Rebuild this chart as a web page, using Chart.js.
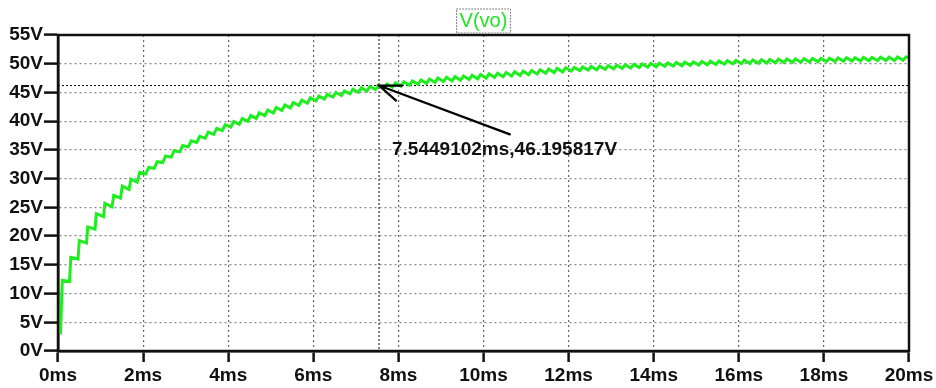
<!DOCTYPE html>
<html>
<head>
<meta charset="utf-8">
<title>V(vo)</title>
<script src="https://cdn.jsdelivr.net/npm/chart.js@4.4.1/dist/chart.umd.min.js"></script>
<style>
    html, body { margin: 0; padding: 0; background: #ffffff; }
    canvas { display: block; }
</style>
</head>
<body>
<canvas id="voChart" width="936" height="388"></canvas>
<script>
// ============================================================
// Datos (transitorio V(vo), 0 a 20 ms)
// ============================================================

// tiempo en ms (valle y pico de cada diente)
const timeMs = [
    0.00, 0.06, 0.10, 0.27, 0.30, 0.47, 0.50, 0.67, 0.70, 0.87, 0.90,
    1.07, 1.10, 1.27, 1.31, 1.47, 1.51, 1.67, 1.71, 1.86, 1.92,
    2.06, 2.13, 2.26, 2.33, 2.46, 2.53, 2.66, 2.73, 2.86, 2.93,
    3.06, 3.13, 3.26, 3.33, 3.46, 3.53, 3.66, 3.73, 3.86, 3.93,
    4.06, 4.13, 4.26, 4.33, 4.46, 4.53, 4.66, 4.73, 4.86, 4.93,
    5.06, 5.13, 5.26, 5.33, 5.46, 5.53, 5.66, 5.73, 5.86, 5.93,
    6.06, 6.13, 6.26, 6.33, 6.46, 6.53, 6.66, 6.73, 6.86, 6.93,
    7.06, 7.13, 7.26, 7.33, 7.46, 7.54, 7.66, 7.73, 7.86, 7.93,
    8.06, 8.13, 8.26, 8.33, 8.46, 8.53, 8.66, 8.73, 8.86, 8.93,
    9.06, 9.13, 9.26, 9.33, 9.46, 9.53, 9.66, 9.73, 9.86, 9.93,
    10.06, 10.13, 10.26, 10.33, 10.46, 10.53, 10.66, 10.73, 10.86, 10.93,
    11.06, 11.13, 11.26, 11.33, 11.46, 11.53, 11.66, 11.73, 11.86, 11.93,
    12.06, 12.13, 12.26, 12.33, 12.46, 12.53, 12.66, 12.73, 12.86, 12.93,
    13.06, 13.13, 13.26, 13.33, 13.46, 13.53, 13.66, 13.73, 13.86, 13.93,
    14.06, 14.13, 14.26, 14.33, 14.46, 14.53, 14.66, 14.73, 14.86, 14.93,
    15.06, 15.13, 15.26, 15.33, 15.46, 15.53, 15.66, 15.73, 15.86, 15.93,
    16.06, 16.13, 16.26, 16.33, 16.46, 16.53, 16.66, 16.73, 16.86, 16.93,
    17.06, 17.13, 17.26, 17.33, 17.46, 17.53, 17.66, 17.73, 17.86, 17.93,
    18.06, 18.13, 18.26, 18.33, 18.46, 18.53, 18.66, 18.73, 18.86, 18.93,
    19.06, 19.13, 19.26, 19.33, 19.46, 19.53, 19.66, 19.73, 19.86, 19.93, 20.00
];

// tensión V(vo) en V
const vo = [
    3.4, 3.2, 12.3, 12.1, 16.3, 16.0, 19.2, 18.8, 21.6, 21.2, 23.9,
    23.4, 25.7, 25.1, 27.1, 26.6, 28.7, 28.1, 29.9, 29.4, 31.1,
    30.80, 31.95, 31.80, 32.95, 32.80, 33.94, 33.74, 34.86, 34.66, 35.78,
    35.53, 36.59, 36.29, 37.35, 37.05, 38.10, 37.71, 38.74, 38.35, 39.38,
    38.96, 39.94, 39.48, 40.46, 40.00, 40.97, 40.48, 41.45, 40.96, 41.93,
    41.43, 42.39, 41.87, 42.83, 42.31, 43.26, 42.72, 43.66, 43.12, 44.06,
    43.55, 44.36, 43.87, 44.68, 44.19, 44.99, 44.47, 45.27, 44.75, 45.55,
    45.02, 45.81, 45.26, 46.05, 45.50, 46.20, 45.71, 46.48, 45.91, 46.68,
    46.10, 46.85, 46.26, 47.01, 46.42, 47.17, 46.58, 47.33, 46.74, 47.49,
    46.89, 47.63, 47.01, 47.75, 47.13, 47.87, 47.25, 47.99, 47.37, 48.11,
    47.49, 48.23, 47.61, 48.35, 47.73, 48.47, 47.85, 48.59, 47.97, 48.71,
    48.09, 48.83, 48.21, 48.95, 48.33, 49.07, 48.45, 49.19, 48.57, 49.31,
    48.72, 49.35, 48.80, 49.43, 48.88, 49.51, 48.96, 49.59, 49.04, 49.67,
    49.12, 49.75, 49.19, 49.82, 49.26, 49.89, 49.33, 49.96, 49.40, 50.03,
    49.47, 50.09, 49.53, 50.15, 49.59, 50.21, 49.65, 50.27, 49.71, 50.33,
    49.77, 50.38, 49.82, 50.43, 49.87, 50.48, 49.92, 50.53, 49.97, 50.58,
    50.01, 50.63, 50.05, 50.67, 50.09, 50.71, 50.13, 50.75, 50.17, 50.79,
    50.21, 50.82, 50.24, 50.85, 50.27, 50.88, 50.30, 50.91, 50.33, 50.94,
    50.36, 50.97, 50.39, 51.00, 50.42, 51.03, 50.45, 51.06, 50.48, 51.09,
    50.51, 51.11, 50.53, 51.13, 50.55, 51.15, 50.57, 51.17, 50.59, 51.19, 51.05
];

// marcas de los ejes
const xTicks = [0, 2, 4, 6, 8, 10, 12, 14, 16, 18, 20];
const yTicks = [0, 5, 10, 15, 20, 25, 30, 35, 40, 45, 50, 55];

// cursor y su etiqueta
const cursorMs = 7.5449102;
const cursorV = 46.195817;
const cursorText = "7.5449102ms,46.195817V";
const labelAt = { x: 7.85, y: 34.1 };   // esquina de la etiqueta (ms, V)
const arrowTail = { x: 10.62, y: 37.7 }; // cola de la flecha (ms, V)

const traceName = "V(vo)";


// ============================================================
// Plugin: marco, cursor, flecha y título tipo LTspice
// ============================================================

const spicePlugin = {
    id: "spice",

    beforeDatasetsDraw(chart) {
        const { ctx, chartArea: a, scales: { x, y } } = chart;
        const cx = x.getPixelForValue(cursorMs);
        const cy = y.getPixelForValue(cursorV);

        ctx.save();
        ctx.strokeStyle = "#000";
        ctx.lineWidth = 1;
        ctx.setLineDash([2, 2]);
        ctx.beginPath();
        ctx.moveTo(cx, a.top);
        ctx.lineTo(cx, a.bottom);
        ctx.moveTo(a.left, cy);
        ctx.lineTo(a.right, cy);
        ctx.stroke();
        ctx.restore();
    },

    afterDatasetsDraw(chart) {
        const { ctx, chartArea: a, scales: { x, y } } = chart;
        const hx = x.getPixelForValue(cursorMs);
        const hy = y.getPixelForValue(cursorV);
        const tx = x.getPixelForValue(arrowTail.x);
        const ty = y.getPixelForValue(arrowTail.y);

        ctx.save();

        // marco completo
        ctx.strokeStyle = "#111";
        ctx.lineWidth = 2.5;
        ctx.strokeRect(a.left, a.top, a.right - a.left, a.bottom - a.top);

        // flecha
        ctx.strokeStyle = "#000";
        ctx.lineWidth = 2.2;
        ctx.lineCap = "round";
        ctx.beginPath();
        ctx.moveTo(tx, ty);
        ctx.lineTo(hx, hy);
        ctx.moveTo(hx + 23, hy);
        ctx.lineTo(hx, hy);
        ctx.lineTo(hx + 17, hy + 15);
        ctx.stroke();

        // etiqueta del cursor
        ctx.fillStyle = "#111";
        ctx.font = "bold 19px 'Liberation Sans', Arial, sans-serif";
        ctx.textAlign = "left";
        ctx.textBaseline = "alphabetic";
        ctx.fillText(cursorText, x.getPixelForValue(labelAt.x), y.getPixelForValue(labelAt.y));

        // título con recuadro punteado
        const midX = (a.left + a.right) / 2;
        ctx.font = "20px 'Liberation Sans', Arial, sans-serif";
        const w = ctx.measureText(traceName).width;
        ctx.fillStyle = "#1ee61e";
        ctx.textAlign = "center";
        ctx.textBaseline = "middle";
        ctx.fillText(traceName, midX, a.top - 14);
        ctx.strokeStyle = "#777";
        ctx.lineWidth = 1;
        ctx.setLineDash([1, 2]);
        ctx.strokeRect(midX - w / 2 - 3, a.top - 26, w + 6, 24);

        ctx.restore();
    }
};


// ============================================================
// Gráfica
// ============================================================

Chart.defaults.font.family = "'Liberation Sans', Arial, sans-serif";

const points = timeMs.map((t, i) => ({ x: t, y: vo[i] }));

new Chart(document.getElementById("voChart").getContext("2d"), {
    type: "line",
    data: {
        datasets: [{
            label: traceName,
            data: points,
            borderColor: "#1eee1e",
            borderWidth: 3,
            pointRadius: 0,
            tension: 0,
            fill: false
        }]
    },
    options: {
        responsive: false,
        animation: false,
        layout: {
            padding: { top: 35, right: 27, left: 0, bottom: 0 }
        },
        scales: {
            x: {
                type: "linear",
                min: 0,
                max: 20,
                afterBuildTicks: s => { s.ticks = xTicks.map(v => ({ value: v })); },
                afterFit: s => { s.height = 37; },
                ticks: {
                    color: "#111",
                    font: { size: 19, weight: "bold" },
                    padding: 2,
                    maxRotation: 0,
                    callback: v => v + "ms"
                },
                grid: {
                    color: "#666",
                    lineWidth: 1.2,
                    tickLength: 11,
                    tickColor: "#111",
                    tickWidth: 2.5
                },
                border: { color: "#111", width: 2.5, dash: [2, 3] }
            },
            y: {
                type: "linear",
                min: 0,
                max: 55,
                afterBuildTicks: s => { s.ticks = yTicks.map(v => ({ value: v })); },
                afterFit: s => { s.width = 58; },
                ticks: {
                    color: "#111",
                    font: { size: 19, weight: "bold" },
                    padding: 1,
                    callback: v => v + "V"
                },
                grid: {
                    color: "#8a8a8a",
                    lineWidth: 1.2,
                    tickLength: 14,
                    tickColor: "#111",
                    tickWidth: 2.5
                },
                border: { color: "#111", width: 2.5, dash: [2, 3] }
            }
        },
        plugins: {
            legend: { display: false },
            title: { display: false },
            tooltip: { enabled: false }
        }
    },
    plugins: [spicePlugin]
});
</script>
</body>
</html>
